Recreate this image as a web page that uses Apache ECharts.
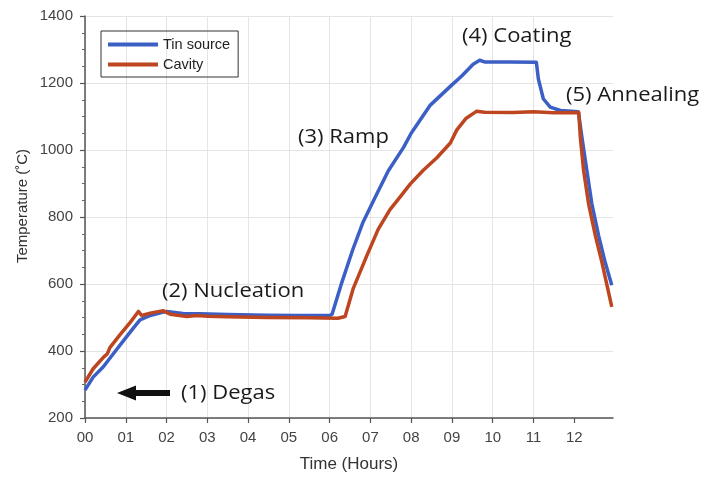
<!DOCTYPE html>
<html>
<head>
<meta charset="utf-8">
<script src="https://cdn.jsdelivr.net/npm/echarts@6/dist/echarts.min.js"></script>
<style>
  html, body { margin: 0; padding: 0; background: #fff; }
  #chart { width: 708px; height: 478px; }
</style>
</head>
<body>
<div id="chart"></div>
<script>
// Furnace run: temperature of the tin source and of the cavity over time
const tinHours = [0.00, 0.20, 0.45, 0.69, 0.94, 1.19, 1.35, 1.60, 1.92, 2.00, 2.40, 2.82, 3.50, 4.46, 5.20, 6.01,
  6.06, 6.30, 6.56, 6.81, 7.12, 7.44, 7.81, 8.00, 8.47, 8.96, 9.24, 9.52, 9.68, 9.80, 10.40, 11.07,
  11.12, 11.24, 11.41, 11.66, 12.10, 12.19, 12.31, 12.43, 12.60, 12.76, 12.92];
const tinTemp = [283, 322, 353, 391, 430, 469, 493, 506, 516, 518, 512, 511, 509, 507, 506, 506,
  510, 605, 700, 782, 860, 938, 1007, 1050, 1134, 1190, 1221, 1256, 1268, 1263, 1263, 1262,
  1212, 1153, 1128, 1118, 1114, 1036, 938, 840, 743, 664, 596];

const cavHours = [0.00, 0.20, 0.45, 0.55, 0.61, 0.86, 1.10, 1.31, 1.39, 1.60, 1.92, 2.09, 2.50, 2.74, 3.00, 3.50,
  4.46, 5.50, 6.20, 6.38, 6.58, 6.91, 7.19, 7.48, 7.73, 7.98, 8.29, 8.63, 8.96, 9.12, 9.35, 9.61,
  9.80, 10.50, 11.00, 11.50, 12.11, 12.15, 12.23, 12.35, 12.52, 12.68, 12.92];
const cavTemp = [307, 347, 381, 392, 410, 449, 484, 518, 506, 513, 520, 510, 503, 506, 504, 502,
  500, 499, 498, 503, 587, 684, 763, 822, 860, 899, 939, 977, 1021, 1060, 1095, 1116,
  1113, 1112, 1114, 1111, 1112, 1036, 938, 840, 743, 664, 532];

const hourTicks = [0, 1, 2, 3, 4, 5, 6, 7, 8, 9, 10, 11, 12];
const seriesNames = ['Tin source', 'Cavity'];
const stageLabels = ['(1) Degas', '(2) Nucleation', '(3) Ramp', '(4) Coating', '(5) Annealing'];

const pairs = (xs, ys) => xs.map((x, i) => [x, ys[i]]);
const pad2 = v => (v < 10 ? '0' : '') + v;

const chart = echarts.init(document.getElementById('chart'));

const stageFont = '20px "Open Sans", sans-serif';
function stageText(text, x, y) {
  return {
    type: 'text', x: x, y: y, scaleX: 1.1, silent: true, z: 100,
    style: { text: text, x: 0, y: 0, font: stageFont, fill: '#1a1a1a', textAlign: 'left', textVerticalAlign: 'middle' }
  };
}

chart.setOption({
  animation: false,
  backgroundColor: '#fff',
  grid: { left: 85, right: 95, top: 16, bottom: 53, containLabel: false },
  legend: {
    data: seriesNames,
    orient: 'vertical',
    left: 101, top: 31,
    padding: [6, 8, 5, 7],
    itemGap: 5,
    itemWidth: 50, itemHeight: 4,
    icon: 'rect',
    borderColor: '#333', borderWidth: 1,
    textStyle: { fontFamily: '"Liberation Sans", Arial, sans-serif', fontSize: 14.5, color: '#222' }
  },
  xAxis: {
    type: 'value',
    min: 0, max: 12.95, interval: 1,
    name: 'Time (Hours)',
    nameLocation: 'middle',
    nameGap: 38,
    nameTextStyle: { fontFamily: '"Liberation Sans", Arial, sans-serif', fontSize: 17, color: '#333' },
    axisLine: { lineStyle: { color: '#555', width: 1.5 } },
    axisTick: { show: true, length: 5, lineStyle: { color: '#555', width: 1.2 }, customValues: hourTicks },
    axisLabel: {
      margin: 12, color: '#444',
      fontFamily: '"Liberation Sans", Arial, sans-serif', fontSize: 15,
      customValues: hourTicks,
      formatter: v => pad2(Math.round(v))
    },
    splitLine: { show: true, showMaxLine: false, lineStyle: { color: '#e4e4e4', width: 1 } }
  },
  yAxis: {
    type: 'value',
    min: 200, max: 1400, interval: 200,
    axisLine: { show: true, lineStyle: { color: '#555', width: 1.5 } },
    axisTick: { show: true, length: 5, lineStyle: { color: '#555', width: 1.2 } },
    minorTick: { show: true, splitNumber: 4, length: 3, lineStyle: { color: '#666', width: 1 } },
    axisLabel: {
      margin: 12, color: '#444', fontFamily: '"Liberation Sans", Arial, sans-serif', fontSize: 15,
      formatter: v => String(v)
    },
    splitLine: { show: true, lineStyle: { color: '#e4e4e4', width: 1 } }
  },
  series: [
    {
      name: seriesNames[0], type: 'line', data: pairs(tinHours, tinTemp),
      showSymbol: false, symbol: 'none',
      lineStyle: { color: '#3b5fc5', width: 3.5, join: 'round' },
      itemStyle: { color: '#3b5fc5' }
    },
    {
      name: seriesNames[1], type: 'line', data: pairs(cavHours, cavTemp),
      showSymbol: false, symbol: 'none',
      lineStyle: { color: '#bd4520', width: 3.5, join: 'round' },
      itemStyle: { color: '#bd4520' }
    }
  ],
  graphic: [
    {
      type: 'text', x: 23, y: 206, rotation: Math.PI / 2, silent: true, z: 100,
      style: {
        text: 'Temperature (˚C)', x: 0, y: 0,
        font: '15px "Liberation Sans", Arial, sans-serif', fill: '#333',
        textAlign: 'center', textVerticalAlign: 'middle'
      }
    },
    // arrow pointing back to the start of the run
    {
      type: 'polygon', silent: true, z: 100,
      shape: { points: [[117, 393], [136, 385.5], [136, 390], [170, 390], [170, 396], [136, 396], [136, 400.5]] },
      style: { fill: '#111' }
    },
    stageText(stageLabels[0], 181, 393),
    stageText(stageLabels[1], 162, 291),
    stageText(stageLabels[2], 298, 137),
    stageText(stageLabels[3], 462, 36),
    stageText(stageLabels[4], 566, 95)
  ]
});
</script>
</body>
</html>
